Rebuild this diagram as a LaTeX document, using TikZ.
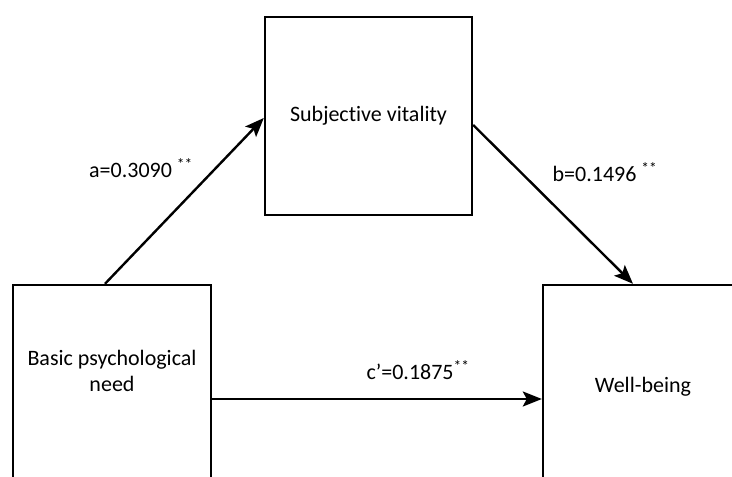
\documentclass[tikz,border=0pt]{standalone}
\usepackage{fontspec}
\setmainfont[Ligatures={NoCommon}]{Carlito}
\usetikzlibrary{positioning}
\usetikzlibrary{arrows.meta}
\tikzset{
    mybox/.style = {rectangle, line width=2.4pt, draw=black, align=center, inner sep=0pt},
    mytext/.style = {align=center, inner sep=0pt},
    coef/.style = {inner sep=0pt},
    edgen/.style = {-{Stealth[length=19pt,width=15pt,inset=4pt]}, line width=2.4pt},
    every picture/.style={font issue=\fontsize{22}{26}},
    font issue/.style={execute at begin picture={#1\selectfont}
  }
}

\begin{document}
\begin{tikzpicture}[x=1pt,y=-1pt]
\useasboundingbox (0,0) rectangle (732,477);
\clip (0,0) rectangle (732,477);
%
\node[mybox, minimum width=198pt, minimum height=228pt] at (112, 399) (need) {};
\node[mytext] at (112, 371) (needtxt) {Basic psychological\\need};
\node[mybox, minimum width=207pt, minimum height=198pt] at (368.5, 116) (vital) {Subjective vitality};
\node[mybox, minimum width=200pt, minimum height=204pt] at (643, 387) (well) {Well-being};
%
\node[coef] at (141, 168) (la) {a=0.3090 \textsuperscript{**}};
\node[coef] at (605, 172) (lb) {b=0.1496 \textsuperscript{**}};
\node[coef] at (418, 370) (lc) {c’=0.1875\textsuperscript{**}};
%
\draw[edgen] ([xshift=-7pt]need.north) -- ([yshift=-2pt]vital.west);
\draw[edgen] ([yshift=-9pt]vital.east) -- ([xshift=-10pt]well.north);
\draw[edgen] (need.east) -- (need.east -| well.west);

\end{tikzpicture}
\end{document}
